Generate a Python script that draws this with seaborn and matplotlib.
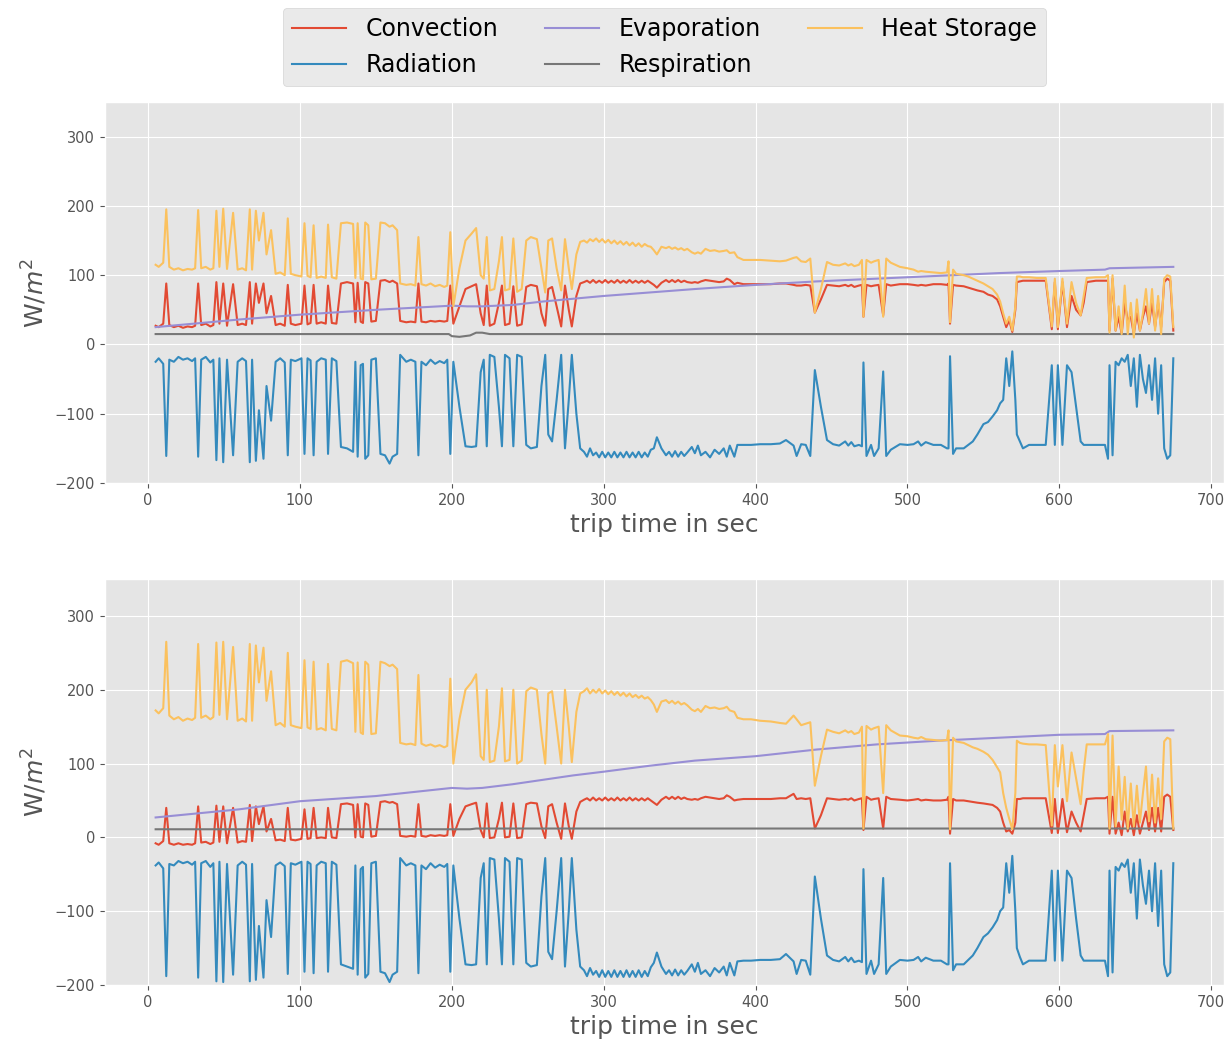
import matplotlib
matplotlib.use('Agg')
import pandas as pd
import seaborn as sns
import matplotlib.pyplot as plt

plt.style.use('ggplot')
plt.rcParams['font.family'] = ['DejaVu Sans']

# shared time axis (s) for convection, radiation and heat storage
trip_t = [
    5, 7, 10, 12, 14, 17, 20, 23, 26, 29,
    31, 33, 35, 38, 41, 43, 45, 47, 49.5, 52,
    56, 59, 62, 64.5, 67, 68.5, 71, 73, 76, 78,
    81, 84, 87, 90, 92, 94, 97, 101, 103, 105,
    107, 109, 111, 114, 117, 118.5, 121, 124, 127, 131,
    135, 136.5, 138, 140, 141.5, 143, 145, 147, 150, 153,
    156, 159, 161, 164, 166, 170, 173, 176, 178, 180,
    183, 186, 189, 192, 195, 197,
    199, 201, 205, 209, 213, 216, 219, 221, 223, 225,
    228, 231, 233, 235, 238, 240.5, 243, 246, 249, 252,
    256, 259, 261.5, 263.5, 266, 269, 272, 274.5, 277, 279,
    282, 284.5,
    287, 289, 291, 293, 295, 297, 299, 301, 303, 305,
    307, 309, 311, 313, 315, 317, 319, 321, 323, 325,
    327, 329,
    331, 333, 335, 338, 341, 343, 345, 347, 349, 351,
    353, 355, 358, 360, 362, 364, 367, 370, 373, 376,
    379, 381, 383, 386, 388, 392, 397,
    403, 410, 416, 420, 425, 427, 430, 433, 436, 439,
    443, 447, 451, 455, 459, 461, 463, 465, 468, 470,
    471, 473, 476, 478, 481, 484, 486, 489, 495, 500,
    504, 507, 509, 512, 517, 522, 526, 527, 528, 530,
    532, 537, 540, 543, 546, 550, 553, 556, 559, 561,
    563, 565, 567, 569, 571, 572, 574, 576, 580, 585,
    591, 595, 597, 599, 602, 605, 608, 611, 614, 616,
    618, 624, 630, 632, 633, 635, 637, 639, 641, 643,
    645, 647, 649, 651, 653, 655, 657, 659, 661, 663,
    665, 667, 669, 671, 673, 675,
]

# ---- upper panel ----
conv_top = [
    27, 25, 30, 88, 28, 25, 27, 24, 26, 25,
    27, 88, 28, 30, 26, 28, 90, 30, 88, 27,
    87, 28, 30, 28, 90, 30, 88, 60, 88, 45,
    70, 28, 30, 27, 86, 30, 28, 30, 85, 29,
    31, 86, 30, 32, 30, 85, 31, 30, 88, 90,
    88, 32, 89, 33, 31, 90, 88, 33, 34, 92,
    93, 90, 92, 88, 34, 32, 33, 32, 88, 33,
    32, 34, 33, 34, 33, 34,
    85, 30, 55, 80, 84, 87, 45, 28, 85, 27,
    30, 60, 85, 28, 30, 84, 27, 29, 83, 86,
    84, 45, 27, 80, 83, 55, 26, 85, 50, 26,
    70, 88,
    90, 92, 89, 93, 89, 92, 89, 93, 89, 92,
    89, 93, 89, 92, 89, 93, 89, 92, 89, 92,
    89, 92,
    89, 86, 82, 89, 93, 90, 93, 90, 93, 90,
    92, 90, 89, 90, 89, 91, 93, 92, 91, 90,
    91, 95, 93, 87, 89, 87, 87,
    87, 87, 88, 88, 86, 85, 85, 86, 85, 46,
    65, 86, 85, 84, 86, 84, 86, 83, 85, 86,
    40, 86, 84, 85, 86, 42, 87, 85, 87, 87,
    86, 85, 86, 85, 87, 87, 86, 88, 30, 86,
    85, 84, 82, 80, 78, 76, 72, 70, 65, 55,
    40, 25, 35, 18, 50, 90, 91, 92, 92, 92,
    92, 22, 90, 22, 90, 25, 70, 50, 42, 60,
    90, 92, 92, 92, 20, 95, 20, 40, 15, 60,
    35, 40, 15, 45, 20, 40, 55, 30, 60, 25,
    60, 25, 90, 95, 92, 20,
]
rad_top = [
    -25, -20, -28, -161, -22, -25, -18, -22, -20, -24,
    -20, -162, -22, -18, -26, -22, -167, -20, -170, -22,
    -160, -25, -20, -24, -170, -22, -168, -95, -165, -60,
    -110, -25, -20, -26, -160, -22, -24, -20, -158, -20,
    -23, -160, -25, -20, -22, -158, -20, -24, -148, -150,
    -155, -25, -162, -30, -28, -165, -160, -22, -20, -158,
    -160, -172, -162, -158, -15, -25, -22, -25, -160, -25,
    -30, -22, -28, -24, -27, -22,
    -158, -25, -90, -147, -148, -147, -40, -22, -147, -15,
    -18, -90, -147, -15, -20, -147, -15, -18, -145, -150,
    -148, -60, -15, -130, -140, -80, -15, -150, -80, -15,
    -100, -150,
    -155, -162, -150, -160, -156, -163, -155, -163, -156, -163,
    -155, -163, -156, -163, -155, -163, -156, -163, -155, -163,
    -156, -162,
    -152, -150, -134, -150, -160, -155, -162, -154, -162, -155,
    -161, -156, -148, -157, -146, -160, -155, -163, -152, -158,
    -150, -162, -146, -162, -145, -145, -145,
    -144, -144, -143, -138, -146, -161, -144, -145, -161, -37,
    -90, -138, -144, -146, -140, -146, -141, -147, -145, -147,
    -26, -161, -145, -161, -150, -39, -161, -152, -144, -145,
    -144, -140, -146, -141, -145, -145, -150, -150, -17, -158,
    -150, -150, -145, -140, -130, -115, -112, -104, -95, -85,
    -80, -20, -60, -10, -80, -130, -140, -150, -145, -145,
    -145, -30, -145, -30, -145, -30, -40, -90, -140, -145,
    -145, -145, -145, -165, -30, -160, -25, -30, -20, -25,
    -15, -60, -20, -90, -15, -50, -70, -30, -80, -20,
    -100, -30, -150, -165, -160, -20,
]
heat_top = [
    115, 112, 118, 195, 112, 108, 110, 107, 109, 108,
    110, 194, 110, 112, 108, 110, 193, 112, 196, 109,
    190, 108, 110, 107, 195, 108, 193, 150, 190, 130,
    165, 102, 104, 100, 182, 102, 100, 98, 175, 99,
    97, 172, 96, 98, 96, 173, 97, 95, 175, 176,
    174, 96, 175, 95, 94, 176, 172, 94, 95, 176,
    175, 170, 172, 165, 88, 86, 87, 85, 155, 87,
    85, 88, 84, 86, 83, 85,
    162, 55, 110, 150, 160, 168, 100, 95, 155, 78,
    80, 120, 155, 78, 80, 153, 76, 80, 150, 155,
    152, 110, 75, 150, 153, 110, 78, 152, 110, 80,
    130, 148,
    150, 147, 152, 149, 153, 148, 152, 147, 151, 146,
    150, 145, 149, 144, 148, 143, 147, 142, 146, 141,
    145, 142,
    141, 136, 130, 141, 139, 141, 138, 140, 137, 139,
    136, 138, 133, 131, 133, 131, 138, 135, 136, 134,
    135, 136, 132, 133, 126, 122, 122,
    122, 121, 120, 121, 125, 126, 120, 119, 124, 46,
    80, 119, 115, 114, 117, 114, 116, 113, 115, 122,
    40, 122, 118, 120, 122, 40, 124, 118, 112, 110,
    108, 105, 106, 105, 104, 103, 104, 120, 32, 108,
    102, 100, 98, 95, 92, 88, 84, 80, 72, 62,
    45, 30, 40, 20, 55, 98, 98, 97, 97, 96,
    96, 26, 95, 25, 95, 30, 90, 60, 42, 70,
    96, 97, 97, 100, 17, 100, 20, 55, 15, 85,
    15, 60, 10, 65, 20, 45, 80, 30, 80, 20,
    70, 15, 95, 100, 98, 25,
]

# ---- lower panel ----
conv_bot = [
    -8, -10, -5, 40, -8, -10, -8, -10, -9, -10,
    -8, 42, -7, -6, -9, -7, 43, -6, 42, -8,
    40, -7, -5, -6, 44, -5, 42, 18, 42, 8,
    25, -4, -3, -5, 40, -3, -4, -2, 38, -2,
    -1, 40, -1, 0, -1, 40, 0, -1, 45, 46,
    44, 0, 45, 1, 0, 46, 44, 1, 2, 48,
    49, 47, 48, 45, 2, 1, 2, 1, 45, 2,
    1, 3, 2, 3, 2, 3,
    45, 2, 25, 42, 45, 47, 10, 0, 46, -1,
    0, 25, 47, 0, 1, 46, -1, 0, 45, 47,
    46, 15, -1, 42, 45, 20, -2, 46, 15, -2,
    35, 48,
    51, 53, 50, 54, 50, 53, 50, 54, 50, 53,
    50, 54, 50, 53, 50, 54, 50, 53, 50, 53,
    50, 53,
    50, 47, 44, 51, 55, 52, 55, 52, 55, 52,
    54, 52, 51, 52, 51, 53, 55, 54, 53, 52,
    53, 57, 55, 50, 51, 52, 52,
    52, 52, 53, 53, 59, 52, 53, 52, 53, 12,
    30, 53, 52, 51, 52, 51, 53, 50, 52, 53,
    10, 55, 51, 52, 53, 12, 55, 52, 51, 50,
    51, 52, 50, 51, 50, 50, 51, 55, 5, 52,
    50, 50, 49, 48, 47, 46, 45, 44, 40, 35,
    20, 8, 10, 5, 20, 52, 52, 53, 53, 53,
    53, 6, 52, 6, 52, 7, 35, 20, 8, 30,
    52, 53, 53, 55, 5, 55, 5, 20, 3, 35,
    8, 25, 3, 30, 5, 20, 35, 10, 40, 8,
    40, 8, 55, 58, 55, 10,
]
rad_bot = [
    -38, -34, -42, -188, -36, -38, -32, -35, -33, -37,
    -33, -190, -35, -32, -40, -35, -195, -33, -196, -36,
    -186, -38, -33, -37, -195, -36, -193, -120, -190, -85,
    -135, -38, -34, -39, -185, -35, -37, -33, -182, -33,
    -36, -184, -38, -33, -35, -182, -33, -37, -172, -175,
    -178, -38, -186, -43, -40, -190, -185, -35, -33, -182,
    -184, -196, -186, -182, -28, -38, -35, -38, -184, -38,
    -43, -35, -41, -37, -40, -36,
    -182, -38, -110, -172, -173, -172, -55, -35, -172, -28,
    -30, -110, -172, -28, -33, -172, -28, -30, -170, -175,
    -173, -80, -28, -155, -165, -100, -28, -175, -100, -28,
    -125, -175,
    -180, -188, -177, -186, -181, -189, -180, -189, -181, -189,
    -180, -189, -181, -189, -180, -189, -181, -189, -180, -189,
    -181, -188,
    -176, -170, -156, -175, -185, -180, -187, -179, -187, -180,
    -186, -181, -172, -182, -170, -185, -180, -188, -177, -183,
    -175, -187, -170, -187, -168, -167, -167,
    -166, -166, -165, -158, -168, -185, -166, -167, -186, -53,
    -110, -160, -166, -168, -162, -168, -163, -169, -167, -169,
    -43, -185, -167, -185, -172, -55, -185, -175, -166, -167,
    -166, -162, -168, -163, -167, -167, -172, -172, -35, -180,
    -172, -172, -166, -160, -150, -135, -130, -122, -112, -100,
    -95, -35, -75, -25, -100, -150, -162, -172, -167, -167,
    -167, -45, -167, -45, -167, -45, -55, -110, -160, -167,
    -167, -167, -167, -188, -45, -183, -40, -45, -35, -40,
    -30, -75, -35, -110, -30, -65, -90, -45, -100, -35,
    -120, -45, -172, -188, -183, -35,
]
heat_bot = [
    172, 168, 175, 265, 165, 160, 163, 158, 161, 159,
    162, 262, 162, 165, 160, 163, 264, 166, 265, 160,
    258, 158, 161, 157, 262, 158, 260, 210, 257, 185,
    225, 152, 155, 150, 250, 152, 150, 148, 240, 149,
    147, 238, 146, 148, 145, 235, 147, 145, 238, 240,
    236, 143, 237, 142, 140, 238, 234, 140, 141, 238,
    236, 232, 234, 228, 128, 126, 127, 125, 220, 127,
    124, 126, 123, 125, 122, 124,
    215, 100, 160, 200, 210, 221, 110, 105, 200, 102,
    104, 150, 202, 103, 105, 200, 100, 104, 198, 203,
    200, 140, 100, 195, 198, 150, 100, 200, 150, 102,
    170, 195,
    198, 202, 195, 200, 196, 201, 195, 199, 194, 198,
    193, 197, 192, 196, 191, 195, 190, 193, 189, 192,
    188, 190,
    186, 180, 170, 184, 186, 182, 185, 181, 184, 180,
    182, 179, 173, 171, 174, 170, 178, 175, 176, 174,
    175, 177, 172, 170, 162, 160, 160,
    158, 157, 155, 154, 165, 160, 152, 154, 156, 70,
    110, 146, 143, 141, 145, 142, 144, 140, 142, 150,
    12, 151, 146, 148, 150, 60, 152, 145, 138, 137,
    135, 134, 136, 133, 132, 131, 132, 145, 11, 135,
    130, 128, 125, 122, 120, 116, 112, 105, 95, 88,
    60, 40, 25, 11, 60, 131, 128, 127, 126, 126,
    125, 16, 125, 69, 125, 49, 115, 80, 45, 90,
    126, 126, 126, 140, 12, 138, 15, 96, 24, 82,
    12, 73, 15, 70, 20, 60, 96, 22, 85, 20,
    80, 25, 130, 135, 133, 12,
]

# smooth terms on their own time points
evap_t = [5, 30, 60, 100, 150, 200, 210, 220, 240, 260, 280, 300,
          330, 360, 400, 440, 480, 520, 560, 600, 630, 633, 675]
evap_top = [25, 30, 36, 43, 50, 56, 55, 55, 57, 62, 66, 70,
            75, 80, 86, 91, 95, 99, 103, 106, 108, 110, 112]
evap_bot = [27, 32, 38, 49, 56, 67, 66, 67, 72, 78, 84, 89,
            97, 104, 110, 119, 126, 131, 135, 139, 140, 144, 145]

resp_t = [5, 198, 200, 205, 212, 216, 220, 225, 675]
resp_top = [15, 15, 12, 11, 13, 17, 17, 15, 15]
resp_bot = [11, 11, 11, 11, 11, 12, 12, 12, 12]

terms = ['Convection', 'Radiation', 'Evaporation', 'Respiration', 'Heat Storage']
colors = ['#E24A33', '#348ABD', '#988ED5', '#777777', '#FBC15E']


def panel_frame(conv, rad, evap, resp, heat):
    parts = [
        pd.DataFrame({'t': trip_t, 'flux': conv, 'term': 'Convection'}),
        pd.DataFrame({'t': trip_t, 'flux': rad, 'term': 'Radiation'}),
        pd.DataFrame({'t': evap_t, 'flux': evap, 'term': 'Evaporation'}),
        pd.DataFrame({'t': resp_t, 'flux': resp, 'term': 'Respiration'}),
        pd.DataFrame({'t': trip_t, 'flux': heat, 'term': 'Heat Storage'}),
    ]
    return pd.concat(parts, ignore_index=True)


fig = plt.figure(figsize=(12.28, 10.45), dpi=100)
ax1 = fig.add_axes([0.0853, 0.5378, 0.9116, 0.3646])
ax2 = fig.add_axes([0.0853, 0.0574, 0.9116, 0.3885])

frames = [panel_frame(conv_top, rad_top, evap_top, resp_top, heat_top),
          panel_frame(conv_bot, rad_bot, evap_bot, resp_bot, heat_bot)]

for ax, df, show_leg in zip([ax1, ax2], frames, [True, False]):
    sns.lineplot(data=df, x='t', y='flux', hue='term', hue_order=terms,
                 palette=colors, estimator=None, linewidth=1.5,
                 legend=show_leg, ax=ax)
    ax.set_ylim(-200, 350)
    ax.set_yticks([-200, -100, 0, 100, 200, 300])
    ax.set_xticks(range(0, 701, 100))
    ax.set_xlabel('trip time in sec', fontsize=18)
    ax.set_ylabel(r'W/$m^2$', fontsize=18)
    ax.tick_params(labelsize=10.5)

sns.move_legend(ax1, 'lower center', bbox_to_anchor=(0.5, 1.01), ncol=3,
                title=None, fontsize=17, frameon=True, handlelength=2.3)

fig.savefig('out.png', dpi=100)
